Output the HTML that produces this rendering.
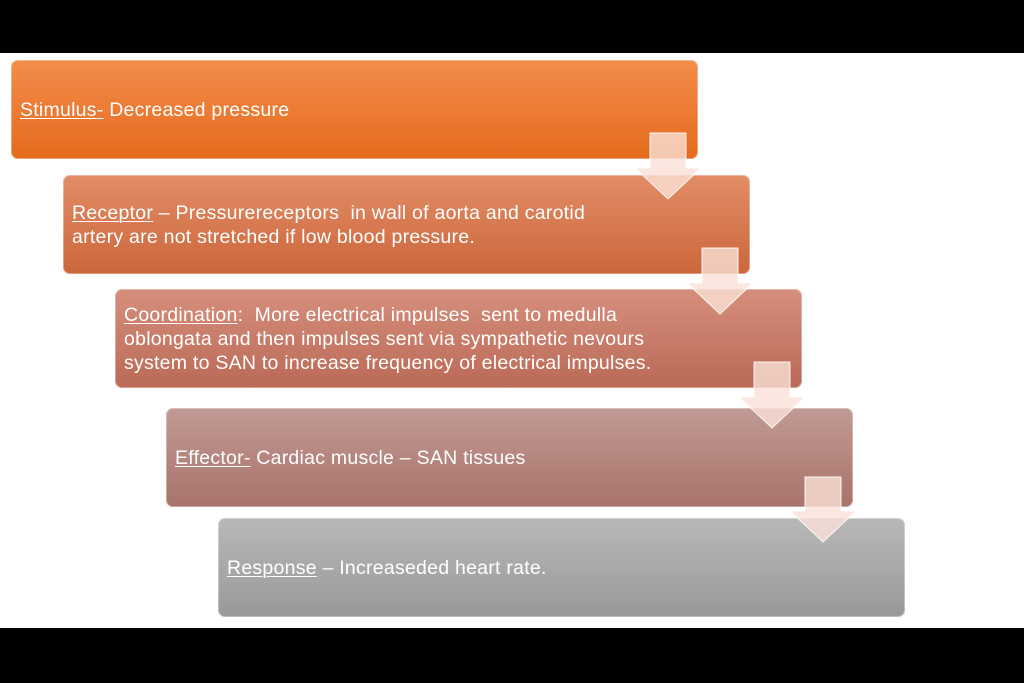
<!DOCTYPE html>
<html><head><meta charset="utf-8"><style>
body{margin:0;width:1024px;height:683px;background:#fff;position:relative;overflow:hidden;font-family:"Liberation Sans",sans-serif}
.bar{position:absolute;left:0;width:1024px;background:#000}
.box{position:absolute;width:687px;height:99px;border-radius:7px;color:#fff;font-size:19.5px;letter-spacing:0.25px;line-height:24px;display:flex;align-items:center;box-sizing:border-box;padding-left:9px;white-space:nowrap;box-shadow:inset 0 0 0 1px rgba(255,255,255,0.35)}
u{text-decoration-thickness:1px;text-underline-offset:2px}
svg{position:absolute;left:0;top:0}
</style></head><body>
<div class="bar" style="top:0;height:53px"></div>
<div class="bar" style="top:628px;height:55px"></div>
<div class="box" style="left:11px;top:60px;background:linear-gradient(#f38c4c,#e56b1d)"><span><u>Stimulus-</u> Decreased pressure</span></div>
<div class="box" style="left:63px;top:175px;background:linear-gradient(#e28d67,#cc663b)"><span><u>Receptor</u> – Pressurereceptors&nbsp; in wall of aorta and carotid<br>artery are not stretched if low blood pressure.</span></div>
<div class="box" style="left:115px;top:289px;background:linear-gradient(#d68f7d,#ba6a56)"><span><u>Coordination</u>:&nbsp; More electrical impulses&nbsp; sent to medulla<br>oblongata and then impulses sent via sympathetic nevours<br>system to SAN to increase frequency of electrical impulses.</span></div>
<div class="box" style="left:166px;top:408px;background:linear-gradient(#c29a94,#a8736a)"><span><u>Effector-</u> Cardiac muscle – SAN tissues</span></div>
<div class="box" style="left:218px;top:518px;background:linear-gradient(#b8b8b8,#999)"><span><u>Response</u> – Increaseded heart rate.</span></div>
<svg width="1024" height="683">
<g fill="rgba(250,225,215,0.8)" stroke="rgba(255,255,255,0.9)" stroke-width="1">
<polygon points="650,133 686,133 686,168 701,168 668,199 635,168 650,168"/>
<polygon points="702,248 738,248 738,283 753,283 720,314 687,283 702,283"/>
<polygon points="754,362 790,362 790,397 805,397 772,428 739,397 754,397"/>
<polygon points="805,477 841,477 841,511 856,511 823,542 790,511 805,511"/>
</g>
</svg>
</body></html>
